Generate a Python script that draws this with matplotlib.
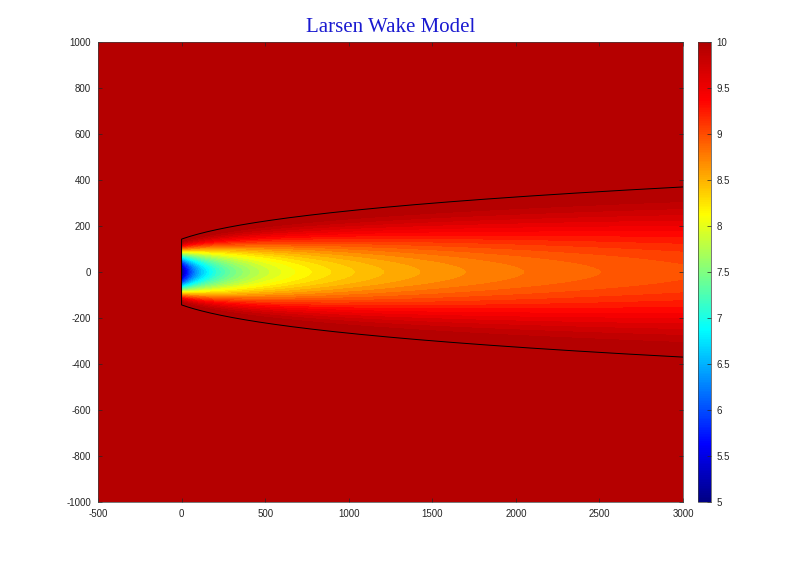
import numpy as np
import matplotlib
matplotlib.use("Agg")
import matplotlib.pyplot as plt
from matplotlib import cm, colors

plt.rcParams["axes.unicode_minus"] = False

# ---- chart values ----
title_text = "Larsen Wake Model"
x_ticks = [-500, 0, 500, 1000, 1500, 2000, 2500, 3000]
y_ticks = [-1000, -800, -600, -400, -200, 0, 200, 400, 600, 800, 1000]
cbar_ticks = [5, 5.5, 6, 6.5, 7, 7.5, 8, 8.5, 9, 9.5, 10]
free_stream = 10.0          # ambient wind speed
deficit_at_rotor = 5.0      # centreline deficit at x = 0
deficit_x0 = 90.0           # d(x) = d0 * (x0 / (x + x0)) ** p
deficit_power = 0.45
profile_power = 2.0         # radial shape (1 - (r/R)^q)^2
wake_radius_0 = 143.0       # wake radius at the rotor (x = 0)
wake_radius_x0 = 184.0      # R(x) = R0 * ((x + xr)/xr)^(1/3)
wake_end = 3000.0
levels = np.linspace(5.0, 10.0, 51)

# ---- MATLAB-like jet colormap ----
jet_data = {
    "red":   [(0, 0, 0), (0.375, 0, 0), (0.625, 1, 1), (0.875, 1, 1), (1, 0.69, 0.69)],
    "green": [(0, 0, 0), (0.125, 0, 0), (0.375, 1, 1), (0.625, 1, 1), (0.875, 0, 0), (1, 0, 0)],
    "blue":  [(0, 0.52, 0.52), (0.125, 1, 1), (0.375, 1, 1), (0.625, 0, 0), (1, 0, 0)],
}
cmap = colors.LinearSegmentedColormap("mjet", jet_data, 256)
norm = colors.Normalize(vmin=5, vmax=10)

# ---- field ----
x = np.linspace(-500, 3000, 1051)
y = np.linspace(-1000, 1000, 1001)
X, Y = np.meshgrid(x, y)
Xp = np.clip(X, 0, None)
R = wake_radius_0 * ((Xp + wake_radius_x0) / wake_radius_x0) ** (1 / 3)
d0 = deficit_at_rotor * (deficit_x0 / (Xp + deficit_x0)) ** deficit_power
r = np.abs(Y)
prof = np.clip(1 - (r / R) ** profile_power, 0, None) ** 2
U = free_stream - np.where((X >= 0) & (r < R), d0 * prof, 0.0)

fig = plt.figure(figsize=(8, 5.66), dpi=100)
ax = fig.add_axes([0.1225, 0.113, 0.7313, 0.8128])
ax.contourf(X, Y, U, levels=levels, cmap=cmap, norm=norm)

# wake boundary
xb = np.linspace(0, wake_end, 400)
Rb = wake_radius_0 * ((xb + wake_radius_x0) / wake_radius_x0) ** (1 / 3)
ax.plot(np.concatenate([xb[::-1], [0], xb]),
        np.concatenate([Rb[::-1], [-wake_radius_0], -Rb]),
        color="black", lw=0.7)

ax.set_xlim(-500, 3000)
ax.set_ylim(-1000, 1000)
ax.set_xticks(x_ticks)
ax.set_yticks(y_ticks)
ax.tick_params(direction="in", length=3, width=0.5, labelsize=7,
               top=True, right=True, colors="#262626", pad=5)
for lab in ax.get_xticklabels() + ax.get_yticklabels():
    lab.set_fontfamily("Liberation Sans")
for s in ax.spines.values():
    s.set_linewidth(0.5)
    s.set_color("#404040")

fig.text(0.5 * (0.1225 + 0.854), 0.951, title_text, ha="center", va="center",
         fontsize=15, color="#1a1ad0", family="Liberation Serif")

cax = fig.add_axes([0.8725, 0.113, 0.0163, 0.8128])
sm = cm.ScalarMappable(norm=norm, cmap=cmap)
cb = fig.colorbar(sm, cax=cax, ticks=cbar_ticks)
cb.ax.set_yticklabels([("%g" % t) for t in cbar_ticks])
cb.ax.tick_params(direction="in", length=3, width=0.5, labelsize=7,
                  colors="#262626", pad=4)
for lab in cb.ax.get_yticklabels():
    lab.set_fontfamily("Liberation Sans")
cb.outline.set_linewidth(0.5)
cb.outline.set_edgecolor("#404040")

fig.savefig("out.png", dpi=100)
